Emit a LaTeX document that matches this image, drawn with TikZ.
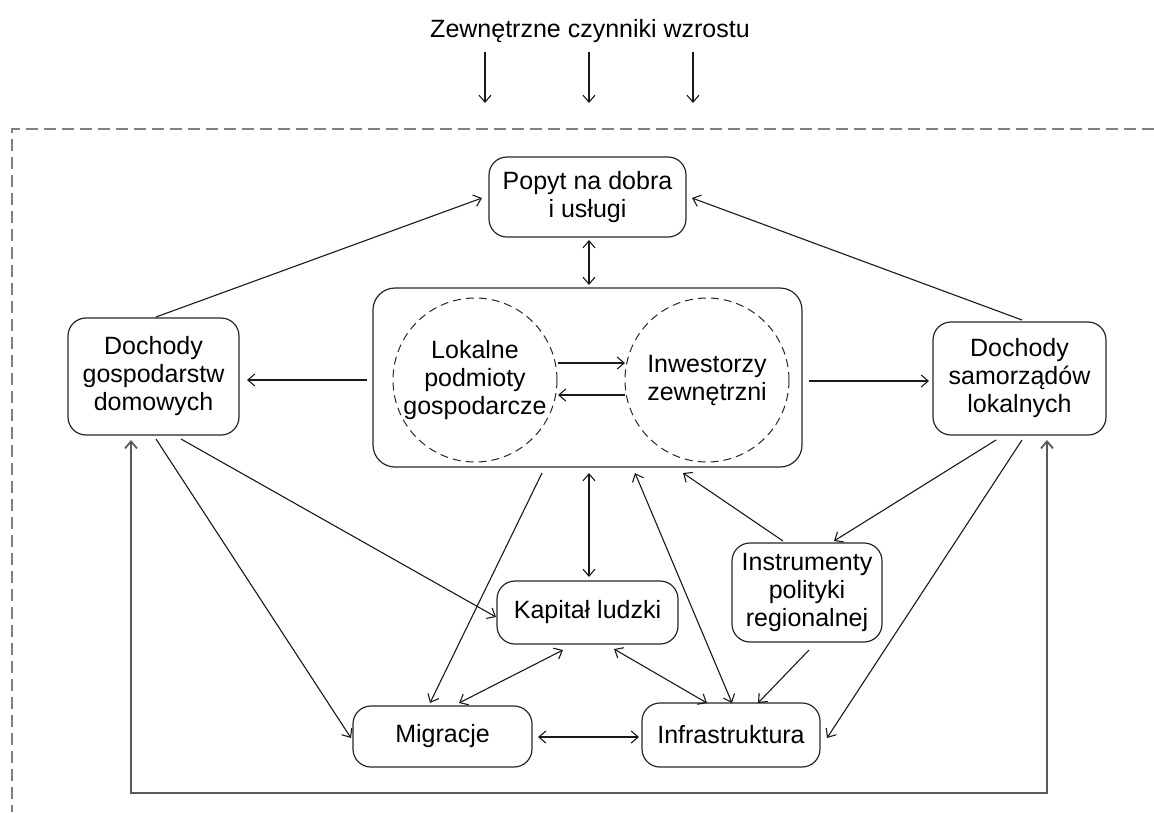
\documentclass[tikz,border=0pt]{standalone}
\usepackage{fontspec}
\setmainfont{Liberation Sans}
\usetikzlibrary{arrows.meta,calc}
\begin{document}
\begin{tikzpicture}[x=1pt,y=-1pt,
  >={Straight Barb[length=7pt,width=12pt]},
  txt/.style={font=\fontsize{25}{28}\selectfont},
  rbox/.style={txt, draw=black!85, line width=1.2pt, rounded corners=18pt, align=center, inner sep=0pt},
  dcirc/.style={txt, draw=black!85, circle, dash pattern=on 8pt off 5pt, line width=1pt, align=center, inner sep=0pt, minimum size=164pt},
  conn/.style={line width=1.1pt, black!90},
  frame/.style={line width=2pt, black!50, dash pattern=on 12pt off 6pt},
  loopline/.style={line width=1.8pt, black!65}
]
\useasboundingbox (0,0) rectangle (1154,812);

% title and incoming arrows
\node[txt, anchor=base, inner sep=0pt] (title) at (590,37) {Zewnętrzne czynniki wzrostu};
\coordinate (a1s) at (485,52); \coordinate (a1e) at (485,103);
\coordinate (a2s) at (589,52); \coordinate (a2e) at (589,103);
\coordinate (a3s) at (693,52); \coordinate (a3e) at (693,103);
\draw[conn,->] (a1s) -- (a1e);
\draw[conn,->] (a2s) -- (a2e);
\draw[conn,->] (a3s) -- (a3e);

% dashed frame
\coordinate (fr1) at (1154,129); \coordinate (fr2) at (12,129); \coordinate (fr3) at (12,812);
\draw[frame] (fr1) -- (fr2) -- (fr3);

% nodes
\node[rbox, minimum width=197pt, minimum height=80pt] (pop) at (587.5,197) {Popyt na dobra\\i usługi};
\node[rbox, rounded corners=22pt, minimum width=429pt, minimum height=179pt] (ctr) at (587.5,377.5) {};
\node[dcirc] (lok) at (475,380) {Lokalne\\podmioty\\gospodarcze};
\node[dcirc] (inw) at (707,380) {Inwestorzy\\zewnętrzni};
\node[rbox, minimum width=171pt, minimum height=117pt] (dg) at (153.5,376.5) {Dochody\\gospodarstw\\domowych};
\node[rbox, minimum width=173pt, minimum height=113pt] (ds) at (1019.5,378.5) {Dochody\\samorządów\\lokalnych};
\node[rbox, minimum width=181pt, minimum height=63pt] (kl) at (587.5,612.5) {Kapitał ludzki};
\node[rbox, minimum width=179pt, minimum height=61pt] (mig) at (442.5,736.5) {Migracje};
\node[rbox, minimum width=178pt, minimum height=64pt] (inf) at (731,735) {Infrastruktura};
\node[rbox, minimum width=150pt, minimum height=99pt] (ins) at (807,592.5) {Instrumenty\\polityki\\regionalnej};

% connectors
\draw[conn,->] ($(dg)+(2.5,-59.5)$) -- ($(pop)+(-105.5,1)$);
\draw[conn,->] ($(ds)+(2.5,-58.5)$) -- ($(pop)+(104.5,1)$);
\draw[conn,<->] ($(pop)+(1.5,43)$) -- ($(ctr)+(1.5,-92.5)$);
\draw[conn,->] ($(ctr)+(-220.5,2.5)$) -- ($(dg)+(93.5,3.5)$);
\draw[conn,->] ($(ctr)+(221.5,3.5)$) -- ($(ds)+(-90.5,2.5)$);
\draw[conn,->] ($(lok)+(83,-17)$) -- ($(inw)+(-82,-17)$);
\draw[conn,->] ($(inw)+(-82,15)$) -- ($(lok)+(83,15)$);
\draw[conn,->] ($(dg)+(2.5,62.5)$) -- ($(mig)+(-91.5,1.5)$);
\draw[conn,->] ($(dg)+(27.5,62.5)$) -- ($(kl)+(-91.5,4.5)$);
\draw[conn,->] ($(ctr)+(-45.5,95.5)$) -- ($(mig)+(-12.5,-33.5)$);
\draw[conn,<->] ($(ctr)+(1.5,95.5)$) -- ($(kl)+(1.5,-35.5)$);
\draw[conn,<->] ($(inf)+(1,-32)$) -- ($(ctr)+(47.5,95.5)$);
\draw[conn,->] ($(ins)+(-24,-51.5)$) -- ($(ctr)+(95.5,95.5)$);
\draw[conn,->] ($(ds)+(-23.5,61.5)$) -- ($(ins)+(27,-51.5)$);
\draw[conn,->] ($(ds)+(2.5,61.5)$) -- ($(inf)+(96,3)$);
\draw[conn,->] ($(ins)+(2,57.5)$) -- ($(inf)+(27,-32)$);
\draw[conn,<->] ($(kl)+(26.5,36.5)$) -- ($(inf)+(-24,-32)$);
\draw[conn,<->] ($(mig)+(16.5,-33.5)$) -- ($(kl)+(-24.5,37.5)$);
\draw[conn,<->] ($(mig)+(95.5,0.5)$) -- ($(inf)+(-92,2)$);
\draw[loopline,<->] ($(dg)+(-22.5,63.5)$) -- ($(dg)+(-22.5,416.5)$) -- ($(ds)+(27.5,414.5)$) -- ($(ds)+(27.5,61.5)$);
\end{tikzpicture}
\end{document}
